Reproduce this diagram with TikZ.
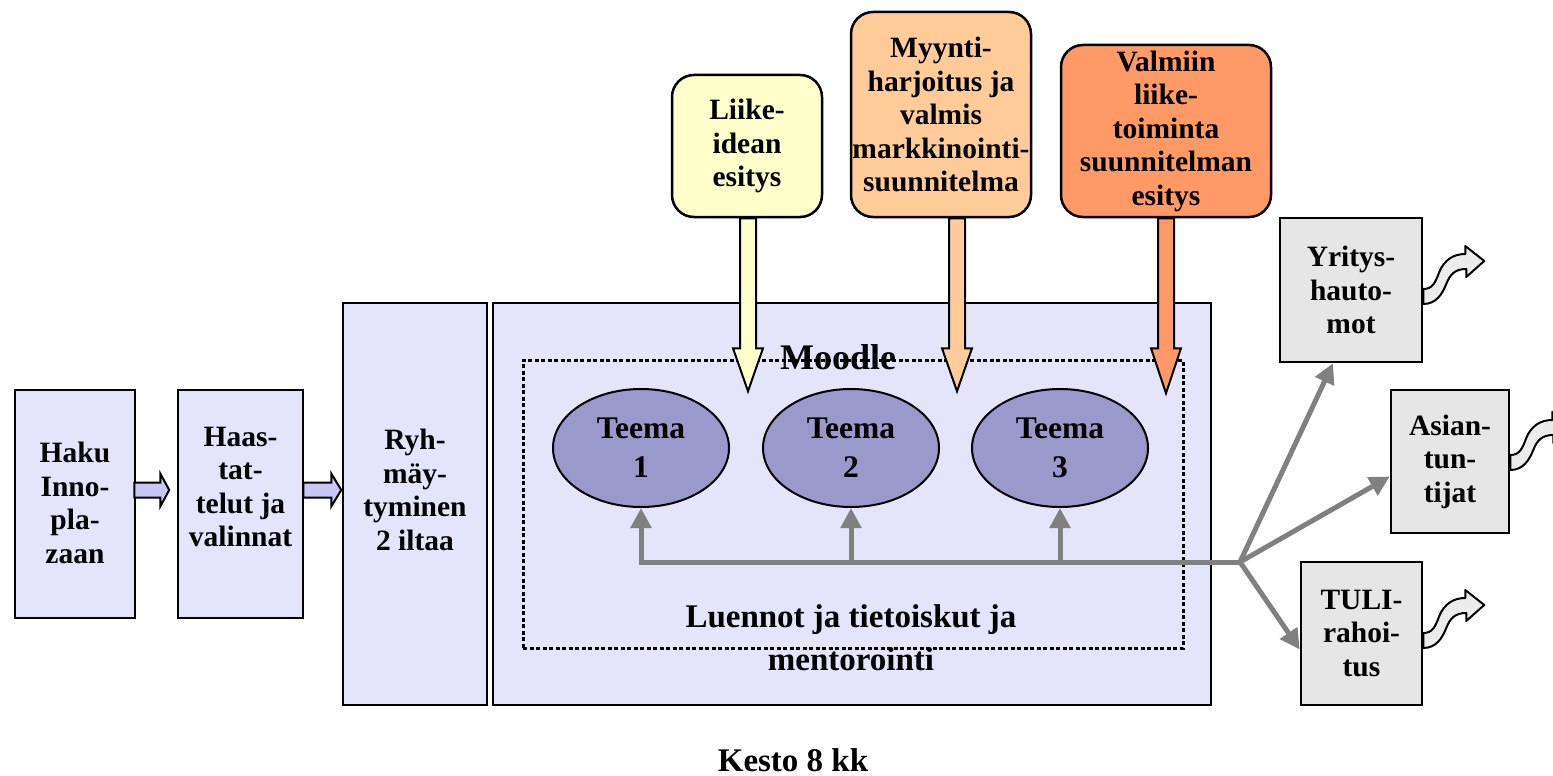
\documentclass[tikz,border=0pt]{standalone}
\usepackage{fontspec}
\setmainfont{Liberation Serif}
\usetikzlibrary{shapes.geometric,arrows.meta,calc}
\definecolor{lav}{RGB}{228,228,250}
\definecolor{lavarrow}{RGB}{200,200,245}
\definecolor{teemac}{RGB}{153,153,204}
\definecolor{boxgray}{RGB}{230,230,230}
\definecolor{yel}{RGB}{255,255,204}
\definecolor{peach}{RGB}{255,204,153}
\definecolor{orng}{RGB}{255,153,102}
\definecolor{connc}{RGB}{128,128,128}
\tikzset{
  bx/.style={draw, line width=2.5pt, inner sep=0pt},
  lavbox/.style={bx, fill=lav},
  graybox/.style={bx, fill=boxgray},
  topbox/.style={bx, rounded corners=22pt},
  txt/.style={font=\fontsize{29.5}{33.5}\selectfont\bfseries, align=center, inner sep=0pt},
  ellbox/.style={draw, line width=2pt, ellipse, fill=teemac, minimum width=176pt, minimum height=118pt, inner sep=0pt, align=center, font=\fontsize{31.5}{39}\selectfont\bfseries},
  smallarr/.style={draw, line width=2pt, fill=lavarrow, line join=miter},
  downarr/.style={draw, line width=2pt, line join=miter},
  connarrow/.style={draw=connc, line width=5pt, -{Triangle[length=20pt,width=20pt]}},
  curvy/.pic={\draw[line width=2pt, fill=gray!15, line join=round]
     (0,0) .. controls (13,0) and (19,-10) .. (23,-20)
     .. controls (27,-30) and (32,-35) .. (43,-35) -- (43,-27) -- (61,-43) -- (42,-58) -- (42,-50)
     .. controls (30,-50) and (21,-44) .. (16,-32)
     .. controls (12,-21) and (9,-15) .. (0,-15) -- cycle;}
}
\begin{document}
\begin{tikzpicture}[x=1pt,y=-1pt]
\useasboundingbox (0,0) rectangle (1553,776);
% left boxes
\node[lavbox, minimum width=120pt, minimum height=228pt] (haku) at (75,504) {};
\node[txt] (hakutxt) at (75,503) {Haku\\Inno-\\pla-\\zaan};
\node[lavbox, minimum width=125pt, minimum height=228pt] (haast) at (240.5,504) {};
\node[txt] (haasttxt) at (240.5,487) {Haas-\\tat-\\telut ja\\valinnat};
\node[lavbox, minimum width=144pt, minimum height=402pt] (ryh) at (415,504) {};
\node[txt] (ryhtxt) at (415,490) {Ryh-\\mäy-\\tyminen\\2 iltaa};
\node[lavbox, minimum width=718pt, minimum height=402pt] (moodle) at (852,504) {};
\node[draw, line width=3pt, dash pattern=on 4pt off 2.5pt, minimum width=660pt, minimum height=288pt, inner sep=0pt] (dots) at (853,504) {};
% small block arrows
\draw[smallarr] ([yshift=14pt]haku.east) ++(-2,-7.5) -- ++(26,0) -- ++(0,-9) -- ++(9,16.5) -- ++(-9,16.5) -- ++(0,-9) -- ++(-26,0) -- cycle;
\draw[smallarr] ([yshift=14pt]haast.east) ++(-1,-7.5) -- ++(28,0) -- ++(0,-9) -- ++(10,16.5) -- ++(-10,16.5) -- ++(0,-9) -- ++(-28,0) -- cycle;
% ellipses
\node[ellbox] (t1) at (641,448) {Teema\\1};
\node[ellbox] (t2) at (851,448) {Teema\\2};
\node[ellbox] (t3) at (1060,448) {Teema\\3};
% right boxes
\node[graybox, minimum width=142pt, minimum height=144pt, txt] (yritys) at (1351,290) {Yritys-\\hauto-\\mot};
\node[graybox, minimum width=118pt, minimum height=143pt, txt] (asian) at (1450,461.5) {Asian-\\tun-\\tijat};
\node[graybox, minimum width=121pt, minimum height=143pt, txt] (tuli) at (1361.5,633.5) {TULI-\\rahoi-\\tus};
% gray connectors
\coordinate (hub) at (1240,562);
\draw[connarrow] (hub) -| (t1.south);
\draw[connarrow] (t2.south |- hub) -- (t2.south);
\draw[connarrow] (t3.south |- hub) -- (t3.south);
\draw[connarrow] (hub) -- ([xshift=-18pt]yritys.south);
\draw[connarrow] (hub) -- ([yshift=-15pt]asian.west);
\draw[connarrow] (hub) -- ([yshift=-16pt]tuli.west);
% curvy arrows
\pic at ([yshift=-14pt]yritys.east) {curvy};
\pic at ([yshift=-8.5pt]asian.east) {curvy};
\pic at ([yshift=-14.5pt]tuli.east) {curvy};
% texts
\node[font=\fontsize{36}{40}\selectfont\bfseries, inner sep=0pt] (moodletxt) at (838,357) {Moodle};
\node[font=\fontsize{33}{43}\selectfont\bfseries, align=center, inner sep=0pt] (luennot) at (851,638) {Luennot ja tietoiskut ja\\mentorointi};
\node[font=\fontsize{33}{40}\selectfont\bfseries, inner sep=0pt] (kesto) at (793,760) {Kesto 8 kk};
% top boxes
\node[topbox, fill=yel, minimum width=150pt, minimum height=142pt, txt] (liike) at (747,146) {Liike-\\idean\\esitys};
\node[topbox, fill=peach, minimum width=180pt, minimum height=205pt, txt] (myynti) at (941,114.5) {Myynti-\\harjoitus ja\\valmis\\markkinointi-\\suunnitelma};
\node[topbox, fill=orng, minimum width=210pt, minimum height=172pt, txt] (valmiin) at (1166,131) {Valmiin\\liike-\\toiminta\\suunnitelman\\esitys};
% down arrows
\draw[downarr, fill=yel] ([xshift=1pt]liike.south) ++(-8,0) -- ++(0,130) -- ++(-7,0) -- ++(15,43) -- ++(15,-43) -- ++(-7,0) -- ++(0,-130) -- cycle;
\draw[downarr, fill=peach] ([xshift=16pt]myynti.south) ++(-8,0) -- ++(0,130) -- ++(-7,0) -- ++(15,43) -- ++(15,-43) -- ++(-7,0) -- ++(0,-130) -- cycle;
\draw[downarr, fill=orng] (valmiin.south) ++(-8,0) -- ++(0,130) -- ++(-7,0) -- ++(15,45) -- ++(15,-45) -- ++(-7,0) -- ++(0,-130) -- cycle;
\end{tikzpicture}
\end{document}
